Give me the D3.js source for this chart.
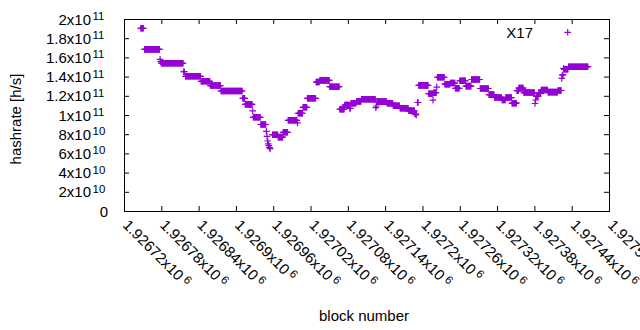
<!DOCTYPE html>
<html><head><meta charset="utf-8">
<script src="https://cdn.jsdelivr.net/npm/d3@7"></script>
<style>
body{margin:0;background:#fff}
text{font-family:"Liberation Sans",Arial,sans-serif;fill:#000}
</style>
</head><body>
<svg id="c" width="640" height="330"></svg>
<script>
// Runs of consecutive blocks sharing the same hashrate estimate (hashrate in 1e9 h/s)
const runStart = [1926747,1926753,1926778,1926779,1926780,1926816,1926819,1926844,1926859,1926876,
  1926911,1926915,1926927,1926928,1926940,1926949,1926950,1926951,1926952,1926953,1926954,1926955,
  1926959,1926968,1926976,1926984,1926999,1927000,1927008,1927015,1927029,1927035,1927051,1927067,
  1927075,1927083,1927085,1927094,1927102,1927125,1927126,1927127,1927143,1927153,1927164,1927178,
  1927188,1927190,1927192,1927194,1927210,1927217,1927218,1927223,1927224,1927236,1927245,1927253,
  1927260,1927270,1927279,1927293,1927307,1927316,1927328,1927334,1927344,1927352,1927355,1927363,
  1927381,1927382,1927383,1927387,1927391,1927402,1927418,1927424,1927425,1927427,1927428,1927435];
const runEnd = [1926751,1926777,1926778,1926779,1926815,1926817,1926843,1926858,1926875,1926910,
  1926914,1926926,1926927,1926939,1926948,1926949,1926950,1926951,1926952,1926953,1926954,1926955,
  1926967,1926975,1926983,1926998,1926999,1927007,1927014,1927028,1927034,1927050,1927066,1927074,
  1927082,1927084,1927093,1927101,1927124,1927125,1927126,1927142,1927152,1927163,1927177,1927187,
  1927189,1927190,1927193,1927209,1927216,1927217,1927222,1927223,1927235,1927244,1927252,1927259,
  1927269,1927278,1927292,1927306,1927315,1927327,1927333,1927343,1927351,1927354,1927362,1927380,
  1927381,1927382,1927386,1927390,1927401,1927417,1927423,1927424,1927426,1927427,1927434,1927466];
const runHashrate = [190.3,168.4,158.0,155.5,153.9,145.1,140.3,135.1,130.7,125.0,
  117.4,111.1,104.2,97.6,90.1,83.0,77.8,72.9,70.0,68.0,66.0,64.9,
  79.5,77.0,82.0,94.5,91.7,101.8,108.0,117.4,134.4,136.1,129.5,106.0,
  110.4,107.0,112.2,114.2,116.4,107.6,109.4,113.9,112.2,109.7,107.0,104.4,
  101.0,100.0,113.0,130.9,122.2,115.5,123.2,129.0,139.3,132.1,133.3,127.8,
  135.7,130.1,137.0,127.6,121.2,118.3,115.6,118.2,112.3,125.3,128.0,123.4,
  112.0,115.6,119.5,122.5,126.0,123.8,125.5,138.2,141.7,148.6,147.6,150.3];
const seriesName = "X17";

const xTickValues = [1926720,1926780,1926840,1926900,1926960,1927020,1927080,1927140,1927200,1927260,1927320,1927380,1927440,1927500];
const xTickMantissa = ["1.92672x10","1.92678x10","1.92684x10","1.9269x10","1.92696x10","1.92702x10","1.92708x10","1.92714x10","1.9272x10","1.92726x10","1.92732x10","1.92738x10","1.92744x10","1.9275x10"];
const xTickExponent = ["6","6","6","6","6","6","6","6","6","6","6","6","6","6"];
const yTickValues = [0,2e10,4e10,6e10,8e10,1e11,1.2e11,1.4e11,1.6e11,1.8e11,2e11];
const yTickMantissa = ["0","2x10","4x10","6x10","8x10","1x10","1.2x10","1.4x10","1.6x10","1.8x10","2x10"];
const yTickExponent = ["","10","10","10","10","11","11","11","11","11","11"];

const color = "#9400d3";
const FS = 15, SFS = 11.5;
const L = 124, R = 609, T = 19, B = 211;
const svg = d3.select("#c");
const x = d3.scaleLinear().domain([1926720, 1927500]).range([L, R]);
const y = d3.scaleLinear().domain([0, 2e11]).range([B, T]);

// points
const pts = [];
runStart.forEach((s, i) => { for (let b = s; b <= runEnd[i]; b++) pts.push({b: b, v: runHashrate[i] * 1e9}); });

const h = 3.3;
svg.append("g").selectAll("path").data(pts).join("path")
  .attr("d", d => { const px = x(d.b), py = y(d.v); return `M${px-h},${py}H${px+h}M${px},${py-h}V${py+h}`; })
  .attr("stroke", color).attr("stroke-width", 1.2).attr("fill", "none");

// axes ticks (inward, mirrored)
const ax = [
  [d3.axisBottom(x).tickValues(xTickValues), `translate(0,${B})`],
  [d3.axisTop(x).tickValues(xTickValues), `translate(0,${T})`],
  [d3.axisLeft(y).tickValues(yTickValues), `translate(${L},0)`],
  [d3.axisRight(y).tickValues(yTickValues), `translate(${R},0)`]
];
ax.forEach(([a, tr]) => {
  const g = svg.append("g").attr("transform", tr).call(a.tickSize(-5).tickFormat(""));
  g.select(".domain").remove();
  g.selectAll("line").attr("stroke", "#000");
});
svg.append("rect").attr("x", L + 0.5).attr("y", T + 0.5).attr("width", R - L).attr("height", B - T)
  .attr("fill", "none").attr("stroke", "#000").attr("stroke-width", 1);

// y tick labels
yTickValues.forEach((v, i) => {
  if (yTickExponent[i] === "") {
    svg.append("text").attr("x", 108).attr("y", y(v) + 5.5).attr("text-anchor", "end")
      .style("font-size", FS + "px").text(yTickMantissa[i]);
  } else {
    svg.append("text").attr("x", 91).attr("y", y(v) + 5.5).attr("text-anchor", "end")
      .style("font-size", FS + "px").text(yTickMantissa[i]);
    svg.append("text").attr("x", 92.5).attr("y", y(v) + 1).attr("text-anchor", "start")
      .style("font-size", SFS + "px").text(yTickExponent[i]);
  }
});

// x tick labels, rotated
xTickValues.forEach((v, i) => {
  const t = svg.append("text").attr("transform", `translate(${x(v) - 2},${B + 15}) rotate(45)`)
    .style("font-size", FS + "px");
  t.append("tspan").text(xTickMantissa[i]);
  t.append("tspan").attr("dx", 3).attr("dy", -4.5).style("font-size", SFS + "px").text(xTickExponent[i]);
});

// axis titles
svg.append("text").attr("transform", "translate(21,119) rotate(-90)").attr("text-anchor", "middle")
  .style("font-size", FS + "px").text("hashrate [h/s]");
svg.append("text").attr("x", 364).attr("y", 321).attr("text-anchor", "middle")
  .style("font-size", FS + "px").text("block number");

// legend
svg.append("text").attr("x", 533).attr("y", 37.5).attr("text-anchor", "end")
  .style("font-size", FS + "px").text(seriesName);
const lx = 567.7, ly = 32.3;
svg.append("path").attr("d", `M${lx-h},${ly}H${lx+h}M${lx},${ly-h}V${ly+h}`)
  .attr("stroke", color).attr("stroke-width", 1.2).attr("fill", "none");
</script>
</body></html>
